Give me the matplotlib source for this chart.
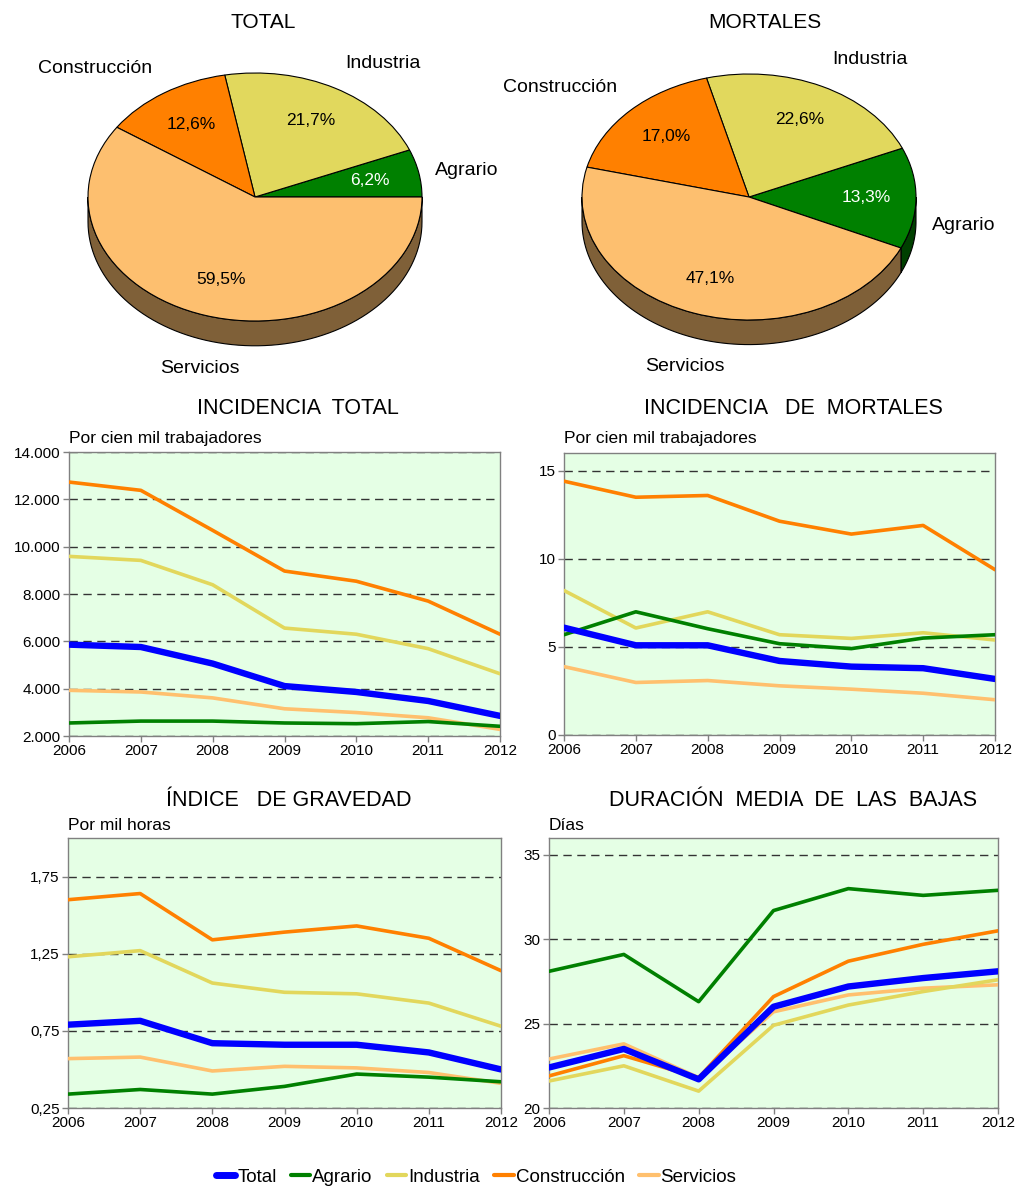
import numpy as np
import matplotlib
matplotlib.use('Agg')
import matplotlib.pyplot as plt
from matplotlib.patches import Polygon
from matplotlib.lines import Line2D
from matplotlib.ticker import FuncFormatter

plt.rcParams['font.family'] = ['Liberation Sans', 'DejaVu Sans']

# pie data (percent)
sectores = ['Agrario', 'Industria', 'Construcción', 'Servicios']
pie_total = [6.2, 21.7, 12.6, 59.5]
pie_mortales = [13.3, 22.6, 17.0, 47.1]
pie_colors = ['#008000', '#E1D85D', '#FF8000', '#FDBF6F']

# line data
years = [2006, 2007, 2008, 2009, 2010, 2011, 2012]
series = ['Total', 'Agrario', 'Industria', 'Construcción', 'Servicios']
line_colors = {'Total': '#0000FF', 'Agrario': '#008000', 'Industria': '#E2D75C',
               'Construcción': '#FF8000', 'Servicios': '#FFC06E'}

inc_total = {
    'Total':        [5860, 5760, 5060, 4110, 3860, 3480, 2850],
    'Agrario':      [2550, 2630, 2630, 2550, 2520, 2610, 2410],
    'Industria':    [9590, 9420, 8390, 6560, 6300, 5690, 4630],
    'Construcción': [12730, 12380, 10690, 8970, 8540, 7700, 6300],
    'Servicios':    [3930, 3860, 3610, 3150, 2990, 2770, 2280],
}
inc_mortales = {
    'Total':        [6.09, 5.09, 5.09, 4.20, 3.88, 3.79, 3.18],
    'Agrario':      [5.69, 6.99, 6.03, 5.18, 4.90, 5.50, 5.69],
    'Industria':    [8.20, 6.07, 6.99, 5.69, 5.48, 5.80, 5.39],
    'Construcción': [14.40, 13.49, 13.59, 12.13, 11.40, 11.89, 9.38],
    'Servicios':    [3.88, 2.98, 3.09, 2.79, 2.60, 2.37, 2.00],
}
ind_gravedad = {
    'Total':        [0.79, 0.815, 0.67, 0.66, 0.66, 0.61, 0.50],
    'Agrario':      [0.34, 0.37, 0.34, 0.39, 0.47, 0.45, 0.42],
    'Industria':    [1.23, 1.27, 1.06, 1.00, 0.99, 0.93, 0.78],
    'Construcción': [1.60, 1.64, 1.34, 1.39, 1.43, 1.35, 1.14],
    'Servicios':    [0.57, 0.58, 0.49, 0.52, 0.51, 0.48, 0.41],
}
duracion = {
    'Total':        [22.4, 23.5, 21.7, 26.0, 27.2, 27.7, 28.1],
    'Agrario':      [28.1, 29.1, 26.3, 31.7, 33.0, 32.6, 32.9],
    'Industria':    [21.6, 22.5, 21.0, 24.9, 26.1, 26.9, 27.6],
    'Construcción': [21.9, 23.1, 21.8, 26.6, 28.7, 29.7, 30.5],
    'Servicios':    [22.9, 23.8, 21.8, 25.7, 26.7, 27.1, 27.3],
}

W, H = 1017, 1187
fig = plt.figure(figsize=(W / 100, H / 100), dpi=100)


def px_axes(left, top, right, bottom):
    return fig.add_axes([left / W, 1 - bottom / H, (right - left) / W, (bottom - top) / H])


def darker(c):
    rgb = np.array(matplotlib.colors.to_rgb(c))
    return rgb * 0.5


def pie3d(ax, values, startangle, label_pos):
    depth = 0.2
    total = sum(values)
    t1 = startangle
    # side of the pie (front half only)
    for v, col in zip(values, pie_colors):
        t2 = t1 + v / total * 360
        for off in (0, 360, -360):
            a = max(t1 + off, 180)
            b = min(t2 + off, 360)
            if b > a:
                th = np.radians(np.linspace(a, b, 80))
                top = np.column_stack([np.cos(th), np.sin(th)])
                bot = np.column_stack([np.cos(th[::-1]), np.sin(th[::-1]) - depth])
                ax.add_patch(Polygon(np.vstack([top, bot]), closed=True, fc=darker(col),
                                     ec='black', lw=0.8, zorder=1))
        t1 = t2
    wedges, texts, autotexts = ax.pie(
        values, colors=pie_colors, startangle=startangle, counterclock=True,
        autopct=lambda p: f'{p:.1f}%'.replace('.', ','), pctdistance=0.7,
        wedgeprops=dict(edgecolor='black', linewidth=0.8),
        textprops=dict(fontsize=12.5))
    for w in wedges:
        w.set_zorder(2)
    for i, t in enumerate(autotexts):
        t.set_zorder(3)
        t.set_color('white' if sectores[i] == 'Agrario' else 'black')
    for name, (x, y) in zip(sectores, label_pos):
        ax.text(x, y, name, ha='center', va='center', fontsize=14)
    ax.set_aspect('auto')


# TOTAL pie: center (255,197) px, rx 167, ry 124
ax_p1 = px_axes(0, 40, 510, 390)
pie3d(ax_p1, pie_total, 0,
      [(1.27, 0.21), (0.766, 1.08), (-0.958, 1.04), (-0.33, -1.387)])
ax_p1.set_xlim(-255 / 167, 255 / 167)
ax_p1.set_ylim(-193 / 124, 157 / 124)
ax_p1.axis('off')

ax_p2 = px_axes(500, 40, 1000, 390)
pie3d(ax_p2, pie_mortales, -24.5,
      [(1.287, -0.228), (0.725, 1.114), (-1.13, 0.894), (-0.383, -1.382)])
ax_p2.set_xlim(-249 / 167, 251 / 167)
ax_p2.set_ylim(-193 / 123, 157 / 123)
ax_p2.axis('off')

fig.text(263 / W, 1 - 22 / H, 'TOTAL', ha='center', va='center', fontsize=15)
fig.text(765 / W, 1 - 22 / H, 'MORTALES', ha='center', va='center', fontsize=15)

draw_order = ['Servicios', 'Construcción', 'Industria', 'Agrario', 'Total']


def line_chart(ax, data, ylim, yticks, fmt, title, title_x, title_y, sub, sub_x, sub_y):
    ax.set_facecolor('#E5FFE5')
    for s in draw_order:
        ax.plot(years, data[s], color=line_colors[s],
                lw=4.6 if s == 'Total' else 2.6, solid_capstyle='round', zorder=3)
    ax.set_xlim(2006, 2012)
    ax.set_ylim(*ylim)
    ax.set_xticks(years)
    ax.set_yticks(yticks)
    ax.yaxis.set_major_formatter(FuncFormatter(fmt))
    ax.grid(axis='y', color='#333333', linestyle=(0, (6, 4)), linewidth=1)
    for sp in ax.spines.values():
        sp.set_color('#808080')
        sp.set_linewidth(1)
    ax.tick_params(axis='both', labelsize=11, length=4, color='#808080', width=1, pad=2)
    fig.text(title_x / W, 1 - title_y / H, title, ha='center', va='center', fontsize=15.5)
    fig.text(sub_x / W, 1 - sub_y / H, sub, ha='left', va='center', fontsize=12.5)


miles = lambda v, p: f'{v:,.0f}'.replace(',', '.')
entero = lambda v, p: f'{v:.0f}'
dec2 = lambda v, p: f'{v:.2f}'.replace('.', ',')

ax1 = px_axes(69, 452, 500, 736)
line_chart(ax1, inc_total, (2000, 14000), range(2000, 14001, 2000), miles,
           'INCIDENCIA  TOTAL', 298, 409, 'Por cien mil trabajadores', 69, 438)

ax2 = px_axes(564, 453, 995, 735)
line_chart(ax2, inc_mortales, (0, 16), [0, 5, 10, 15], entero,
           'INCIDENCIA   DE  MORTALES', 793, 409, 'Por cien mil trabajadores', 564, 438)

ax3 = px_axes(68, 838, 501, 1108)
line_chart(ax3, ind_gravedad, (0.25, 2.0), [0.25, 0.75, 1.25, 1.75], dec2,
           'ÍNDICE   DE GRAVEDAD', 289, 800, 'Por mil horas', 68, 825)

ax4 = px_axes(549, 838, 998, 1108)
line_chart(ax4, duracion, (20, 36), [20, 25, 30, 35], entero,
           'DURACIÓN  MEDIA  DE  LAS  BAJAS', 793, 800, 'Días', 549, 825)

handles = [Line2D([], [], color=line_colors[s], lw=5 if s == 'Total' else 3,
                  solid_capstyle='round') for s in series]
fig.legend(handles, series, loc='center', bbox_to_anchor=(476 / W, 1 - 1177 / H),
           ncol=5, frameon=False, fontsize=13.5, handlelength=1.05, handletextpad=0.1,
           columnspacing=0.75, borderpad=0)

fig.savefig('out.png', dpi=100)
